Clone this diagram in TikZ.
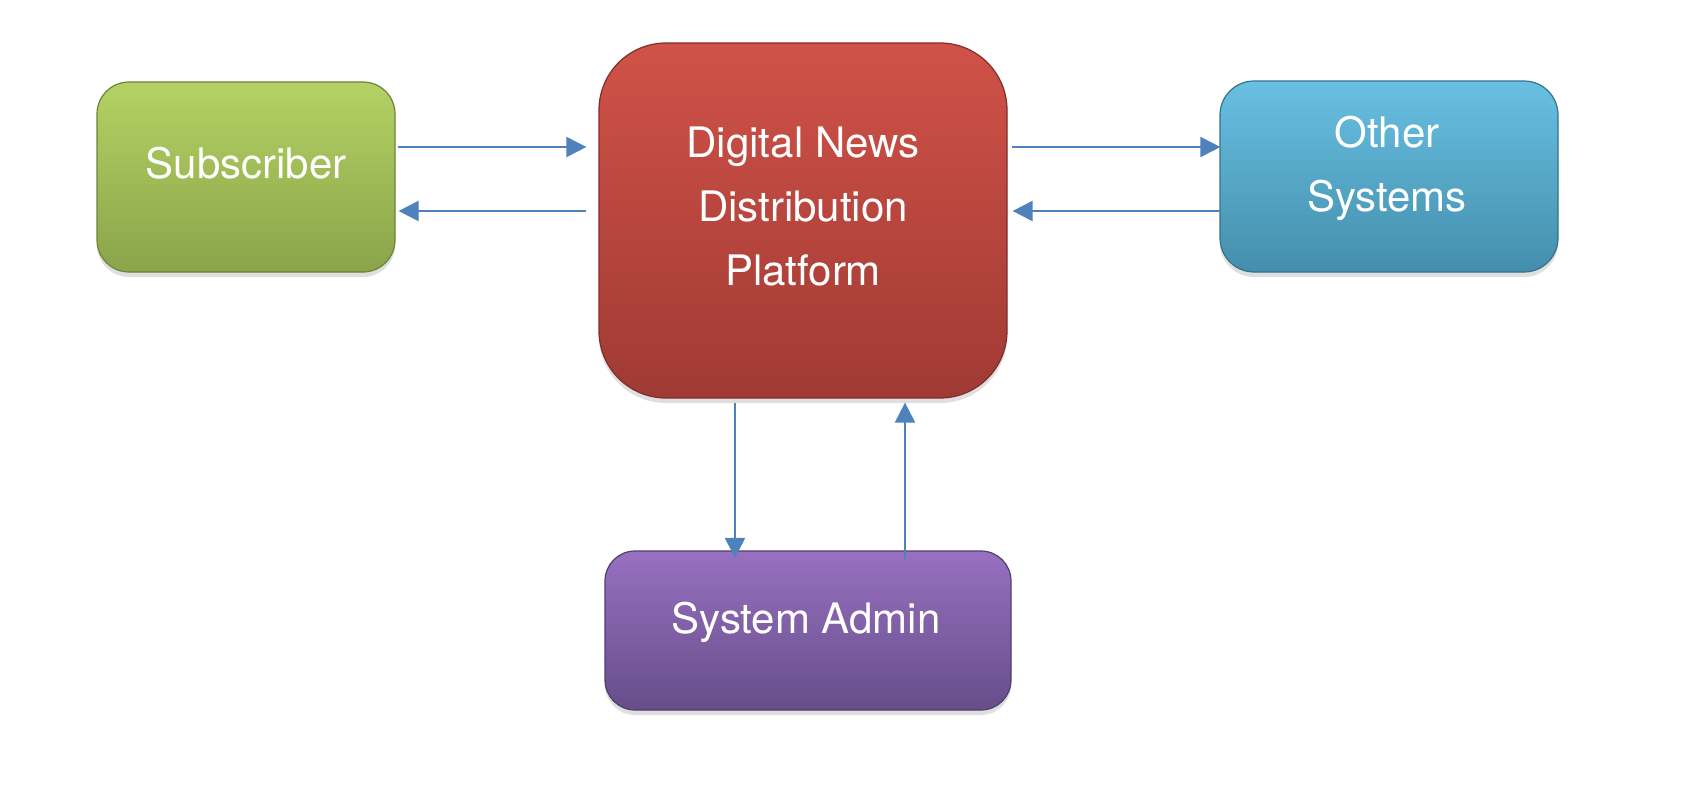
\documentclass[tikz,border=0pt]{standalone}
\usepackage{fontspec}
\setmainfont{TeX Gyre Heros}
\usepackage{tikz}
\usetikzlibrary{calc, arrows.meta, shadows}
\usepackage{xcolor}
\definecolor{flow}{RGB}{79, 129, 189}
\definecolor{subTop}{RGB}{180, 210, 100}
\definecolor{subBot}{RGB}{138, 164, 74}
\definecolor{dndTop}{RGB}{208, 82, 72}
\definecolor{dndBot}{RGB}{160, 58, 52}
\definecolor{othTop}{RGB}{104, 192, 226}
\definecolor{othBot}{RGB}{68, 142, 172}
\definecolor{admTop}{RGB}{152, 112, 192}
\definecolor{admBot}{RGB}{102, 78, 138}

\begin{document}
\begin{tikzpicture}[
  x=1pt, y=1pt,
  box/.style={draw, line width=1.2pt, inner sep=0pt,
              drop shadow={opacity=0.25, shadow xshift=0pt, shadow yshift=-5pt}},
  txt/.style={text=white, align=center, inner sep=0pt,
              font=\fontsize{42}{64}\selectfont},
  flowline/.style={draw=flow, line width=2pt,
                   -{Triangle[length=20pt, width=20pt]}}
]
  \useasboundingbox[fill=white] (0,0) rectangle (1702,-788);

  \node[box, rounded corners=32pt, minimum width=298pt, minimum height=190pt,
        top color=subTop, bottom color=subBot, draw=subBot!80!black] (sub) at (246,-177) {};
  \node[box, rounded corners=67pt, minimum width=408pt, minimum height=355pt,
        top color=dndTop, bottom color=dndBot, draw=dndBot!80!black] (dnd) at (803,-220.5) {};
  \node[box, rounded corners=34pt, minimum width=338pt, minimum height=191pt,
        top color=othTop, bottom color=othBot, draw=othBot!80!black] (oth) at (1389,-176.5) {};
  \node[box, rounded corners=30pt, minimum width=406pt, minimum height=159pt,
        top color=admTop, bottom color=admBot, draw=admBot!80!black] (adm) at (808,-630.5) {};

  \node[txt] (subtxt) at ([yshift=14pt]sub.center) {Subscriber};
  \node[txt] (dndtxt) at ([yshift=14pt]dnd.center) {Digital News\\Distribution\\Platform};
  \node[txt] (othtxt) at ([shift={(-2pt,8.5pt)}]oth.center) {Other\\Systems};
  \node[txt] (admtxt) at ([shift={(-2pt,8.5pt)}]adm.center) {System Admin};

  % subscriber <-> platform
  \draw[flowline] ([shift={(2,30)}]sub.east) -- ([shift={(-12,73.5)}]dnd.west);
  \draw[flowline] ([shift={(-12,9.5)}]dnd.west) -- ([shift={(3,-34)}]sub.east);
  % platform <-> other systems
  \draw[flowline] ([shift={(4,73.5)}]dnd.east) -- ([shift={(1,29.5)}]oth.west);
  \draw[flowline] ([shift={(1,-34.5)}]oth.west) -- ([shift={(5,9.5)}]dnd.east);
  % platform <-> admin
  \draw[flowline] ([shift={(-68,-4)}]dnd.south) -- ([shift={(-73,-7.5)}]adm.north);
  \draw[flowline] ([shift={(97,-8.5)}]adm.north) -- ([shift={(102,-4)}]dnd.south);
\end{tikzpicture}
\end{document}
